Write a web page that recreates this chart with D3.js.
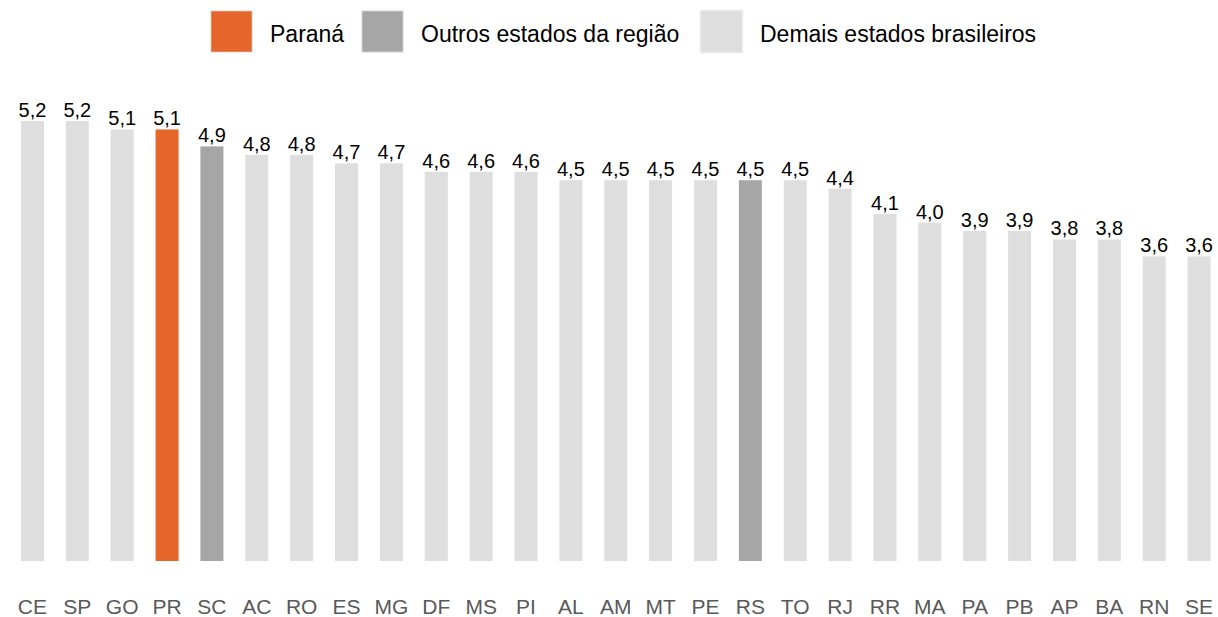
<!DOCTYPE html>
<html>
<head>
<meta charset="utf-8">
<script src="https://cdn.jsdelivr.net/npm/d3@7"></script>
<style>
  body { margin: 0; background: #fff; }
  svg { display: block; font-family: "Liberation Sans", Arial, sans-serif; }
</style>
</head>
<body>
<svg width="1218" height="617"></svg>
<script>
/* Dados do gráfico */
var estados = ["CE", "SP", "GO", "PR", "SC", "AC", "RO", "ES", "MG", "DF", "MS", "PI", "AL", "AM",
  "MT", "PE", "RS", "TO", "RJ", "RR", "MA", "PA", "PB", "AP", "BA", "RN", "SE"];
var valores = [5.2, 5.2, 5.1, 5.1, 4.9, 4.8, 4.8, 4.7, 4.7, 4.6, 4.6, 4.6, 4.5, 4.5,
  4.5, 4.5, 4.5, 4.5, 4.4, 4.1, 4.0, 3.9, 3.9, 3.8, 3.8, 3.6, 3.6];
var grupos = ["Paraná", "Outros estados da região", "Demais estados brasileiros"];
var regiaoSul = ["SC", "RS"];

var svg = d3.select("svg");
var cores = {"Paraná": "#e5652a", "Outros estados da região": "#a6a6a6", "Demais estados brasileiros": "#dedede"};

function grupoDe(uf) {
  if (uf === "PR") return grupos[0];
  if (regiaoSul.indexOf(uf) >= 0) return grupos[1];
  return grupos[2];
}

var data = estados.map(function(uf, i) { return {uf: uf, valor: valores[i]}; });

/* Eixo x */
var x = d3.scaleBand()
  .domain(estados)
  .range([10, 1221.5])
  .paddingInner(0.487)
  .paddingOuter(0.2435);

/* Eixo y */
var y = d3.scaleLinear()
  .domain([0, 5.2])
  .range([561, 121]);

var fmt = function(v) { return d3.format(".1f")(v).replace(".", ","); };

/* Barras */
svg.append("g").selectAll("rect")
  .data(data)
  .enter().append("rect")
    .attr("x", function(d) { return x(d.uf); })
    .attr("y", function(d) { return y(d.valor); })
    .attr("width", x.bandwidth())
    .attr("height", function(d) { return y(0) - y(d.valor); })
    .attr("fill", function(d) { return cores[grupoDe(d.uf)]; });

/* Rótulos de valor */
svg.append("g").selectAll("text")
  .data(data)
  .enter().append("text")
    .attr("x", function(d) { return x(d.uf) + x.bandwidth() / 2; })
    .attr("y", function(d) { return y(d.valor) - 4; })
    .attr("text-anchor", "middle")
    .attr("font-size", 20)
    .attr("fill", "#000")
    .text(function(d) { return fmt(d.valor); });

/* Eixo x (só rótulos) */
var eixoX = svg.append("g")
  .attr("transform", "translate(0,597)")
  .call(d3.axisBottom(x).tickSize(0).tickPadding(0));
eixoX.select(".domain").remove();
eixoX.selectAll("text")
  .attr("font-size", 21)
  .attr("font-family", "'Liberation Sans', Arial, sans-serif")
  .attr("fill", "#595959")
  .attr("dy", "0.8em");

/* Legenda */
var legX = [210, 361, 700];
var leg = svg.append("g");
grupos.forEach(function(g, i) {
  leg.append("rect")
    .attr("x", legX[i] + 0.5)
    .attr("y", 10.5)
    .attr("width", 42)
    .attr("height", 42)
    .attr("fill", cores[g])
    .attr("stroke", "#ececec")
    .attr("stroke-width", 1.5);
  leg.append("text")
    .attr("x", legX[i] + 60)
    .attr("y", 41.5)
    .attr("font-size", 23)
    .attr("fill", "#000")
    .text(g);
});
</script>
</body>
</html>
